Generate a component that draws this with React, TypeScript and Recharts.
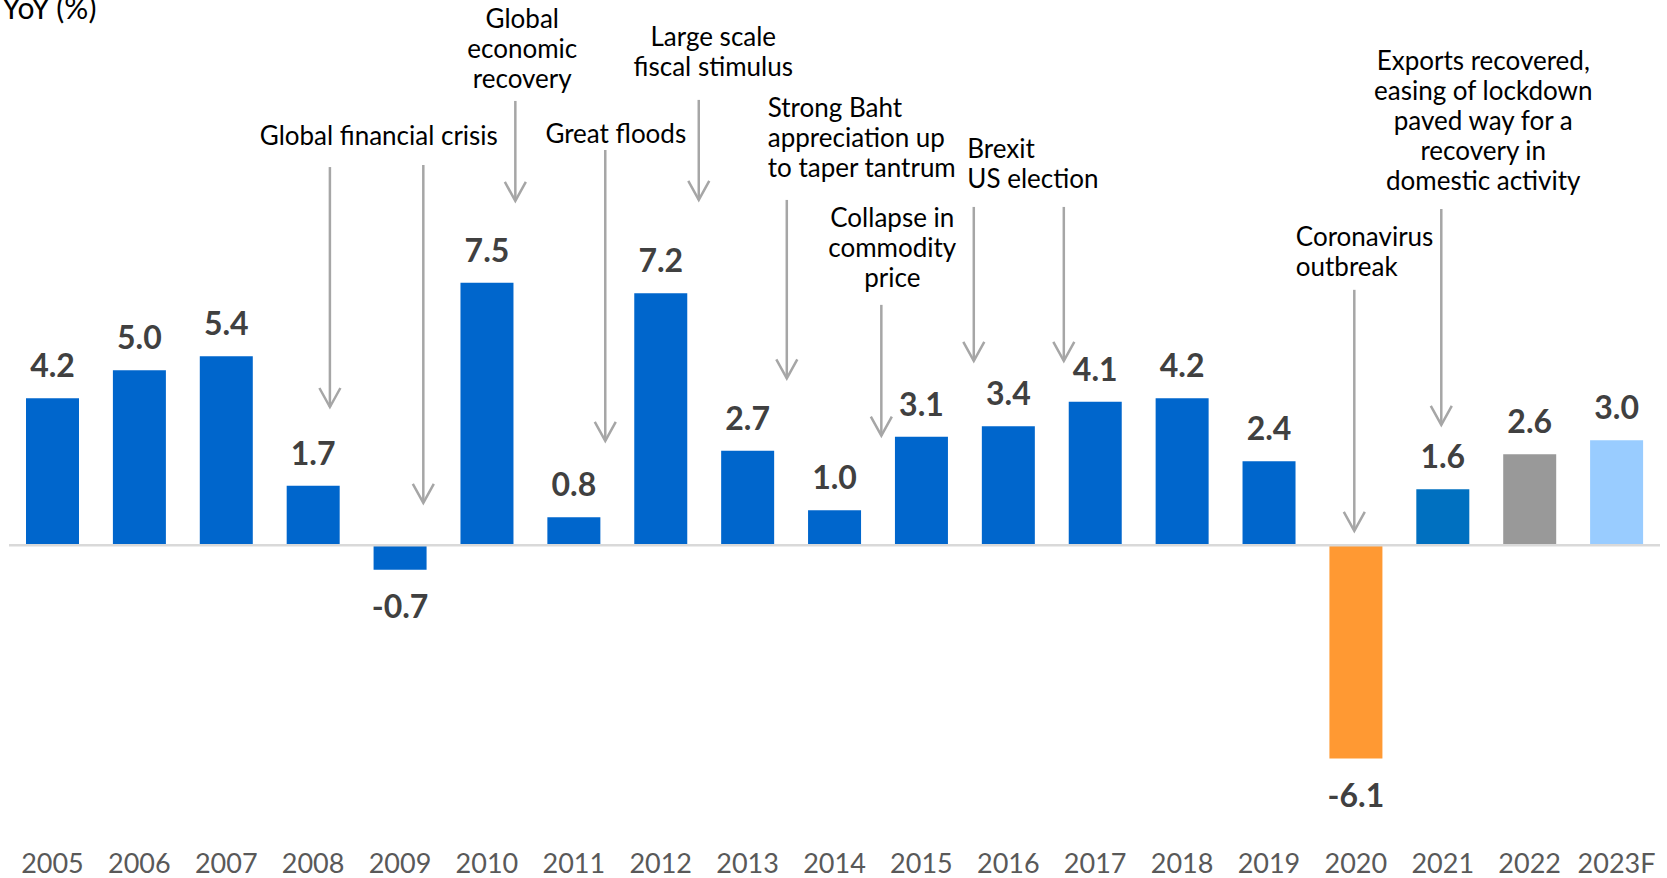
import React from "react";
import {
  Bar,
  BarChart,
  Cell,
  LabelList,
  ReferenceDot,
  ReferenceLine,
  XAxis,
  YAxis,
} from "recharts";

const years = [
  "2005", "2006", "2007", "2008", "2009", "2010", "2011", "2012", "2013", "2014",
  "2015", "2016", "2017", "2018", "2019", "2020", "2021", "2022", "2023F",
];
const growth = [
  4.2, 5.0, 5.4, 1.7, -0.7, 7.5, 0.8, 7.2, 2.7, 1.0,
  3.1, 3.4, 4.1, 4.2, 2.4, -6.1, 1.6, 2.6, 3.0,
];

// annotation texts
const noteTexts = [
  ["Global financial crisis"],
  ["Global", "economic", "recovery"],
  ["Great floods"],
  ["Large scale", "fiscal stimulus"],
  ["Strong Baht", "appreciation up", "to taper tantrum"],
  ["Collapse in", "commodity", "price"],
  ["Brexit", "US election"],
  ["Coronavirus", "outbreak"],
  ["Exports recovered,", "easing of lockdown", "paved way for a", "recovery in", "domestic activity"],
];

// where each note sits (x: band units from the left edge, y: % units)
const noteSpots = [
  { x: 4.256, y: 11.7, anchor: "middle" },
  { x: 5.907, y: 15.04, anchor: "middle" },
  { x: 6.983, y: 11.76, anchor: "middle" },
  { x: 8.105, y: 14.53, anchor: "middle" },
  { x: 8.732, y: 12.5, anchor: "start" },
  { x: 10.165, y: 9.35, anchor: "middle" },
  { x: 11.028, y: 11.33, anchor: "start" },
  { x: 14.809, y: 8.81, anchor: "start" },
  { x: 16.966, y: 13.84, anchor: "middle" },
];

// arrows: x, from (top), to (tip)
const arrows = [
  { x: 3.693, from: 10.81, to: 3.95 },
  { x: 4.768, from: 10.87, to: 1.21 },
  { x: 5.827, from: 12.7, to: 9.84 },
  { x: 6.862, from: 11.3, to: 2.98 },
  { x: 7.938, from: 12.73, to: 9.87 },
  { x: 8.951, from: 9.87, to: 4.77 },
  { x: 10.039, from: 6.87, to: 3.13 },
  { x: 11.103, from: 9.67, to: 5.27 },
  { x: 12.139, from: 9.67, to: 5.27 },
  { x: 15.482, from: 7.3, to: 0.41 },
  { x: 16.483, from: 9.61, to: 3.44 },
];

const FONT = "Lato, 'Open Sans', sans-serif";
const ARROW = "#a6a6a6";

const colorFor = (year: string) => {
  if (year === "2020") return "#ff9933";
  if (year === "2021") return "#0070c0";
  if (year === "2022") return "#999999";
  if (year === "2023F") return "#99ccff";
  return "#0066cc";
};

const data = years.map((year, i) => ({ year, value: growth[i] }));

const renderValue = (props: any) => {
  const { x, y, width, height, value } = props;
  const v = Number(value);
  const top = Math.min(y, y + height);
  const bottom = Math.max(y, y + height);
  const cx = x + width / 2;
  return (
    <text
      x={cx}
      y={v >= 0 ? top - 21 : bottom + 48}
      textAnchor="middle"
      fontFamily={FONT}
      fontWeight={700}
      fontSize={32}
      fill="#404040"
    >
      {v.toFixed(1)}
    </text>
  );
};

const arrowShape = (props: any) => {
  const { x1, y1, x2, y2 } = props;
  return (
    <g>
      <line x1={x1} y1={y1} x2={x2} y2={y2} stroke={ARROW} strokeWidth={2.5} />
      <polyline
        points={`${x2 - 10.5},${y2 - 19} ${x2},${y2} ${x2 + 10.5},${y2 - 19}`}
        fill="none"
        stroke={ARROW}
        strokeWidth={2.5}
      />
    </g>
  );
};

const noteShape = (lines: string[], anchor: string) => (props: any) => {
  const { cx, cy } = props;
  return (
    <text
      x={cx}
      y={cy}
      textAnchor={anchor as any}
      fontFamily={FONT}
      fontSize={26}
      fill="#000000"
    >
      {lines.map((line, i) => (
        <tspan key={i} x={cx} dy={i === 0 ? "0.36em" : 30}>
          {line}
        </tspan>
      ))}
    </text>
  );
};

export default function App() {
  return (
    <div style={{ position: "relative", width: 1667, height: 878 }}>
      <style>{"body{margin:0}"}</style>
      <div
        style={{
          position: "absolute",
          left: 2,
          top: -11,
          fontFamily: FONT,
          fontSize: 30,
          lineHeight: "36px",
          color: "#000",
        }}
      >
        YoY (%)
      </div>
      <BarChart
        width={1667}
        height={878}
        data={data}
        margin={{ top: 3, right: 7, bottom: 3, left: 9 }}
      >
        <XAxis
          dataKey="year"
          xAxisId="cat"
          axisLine={false}
          tickLine={false}
          tickSize={0}
          tickMargin={29}
          height={50}
          interval={0}
          tick={{ fontFamily: FONT, fontSize: 27, fill: "#595959" }}
        />
        {/* hidden linear axis spanning the 19 bands, used to place the notes */}
        <XAxis
          xAxisId="ann"
          dataKey="value"
          type="number"
          domain={[0, 19]}
          allowDataOverflow
          hide
          height={0}
        />
        <YAxis hide width={0} domain={[-8, 15.5]} allowDataOverflow />
        <Bar dataKey="value" xAxisId="cat" barSize={53} isAnimationActive={false}>
          {data.map((d) => (
            <Cell key={d.year} fill={colorFor(d.year)} />
          ))}
          <LabelList dataKey="value" content={renderValue} />
        </Bar>
        <ReferenceLine y={0} xAxisId="cat" stroke="#d9d9d9" strokeWidth={2.5} />
        {arrows.map((a, i) => (
          <ReferenceLine
            key={`arrow-${i}`}
            xAxisId="ann"
            segment={[
              { x: a.x, y: a.from },
              { x: a.x, y: a.to },
            ]}
            ifOverflow="visible"
            shape={arrowShape}
          />
        ))}
        {noteTexts.map((lines, i) => (
          <ReferenceDot
            key={`note-${i}`}
            xAxisId="ann"
            x={noteSpots[i].x}
            y={noteSpots[i].y}
            r={1}
            ifOverflow="visible"
            shape={noteShape(lines, noteSpots[i].anchor)}
          />
        ))}
      </BarChart>
    </div>
  );
}
